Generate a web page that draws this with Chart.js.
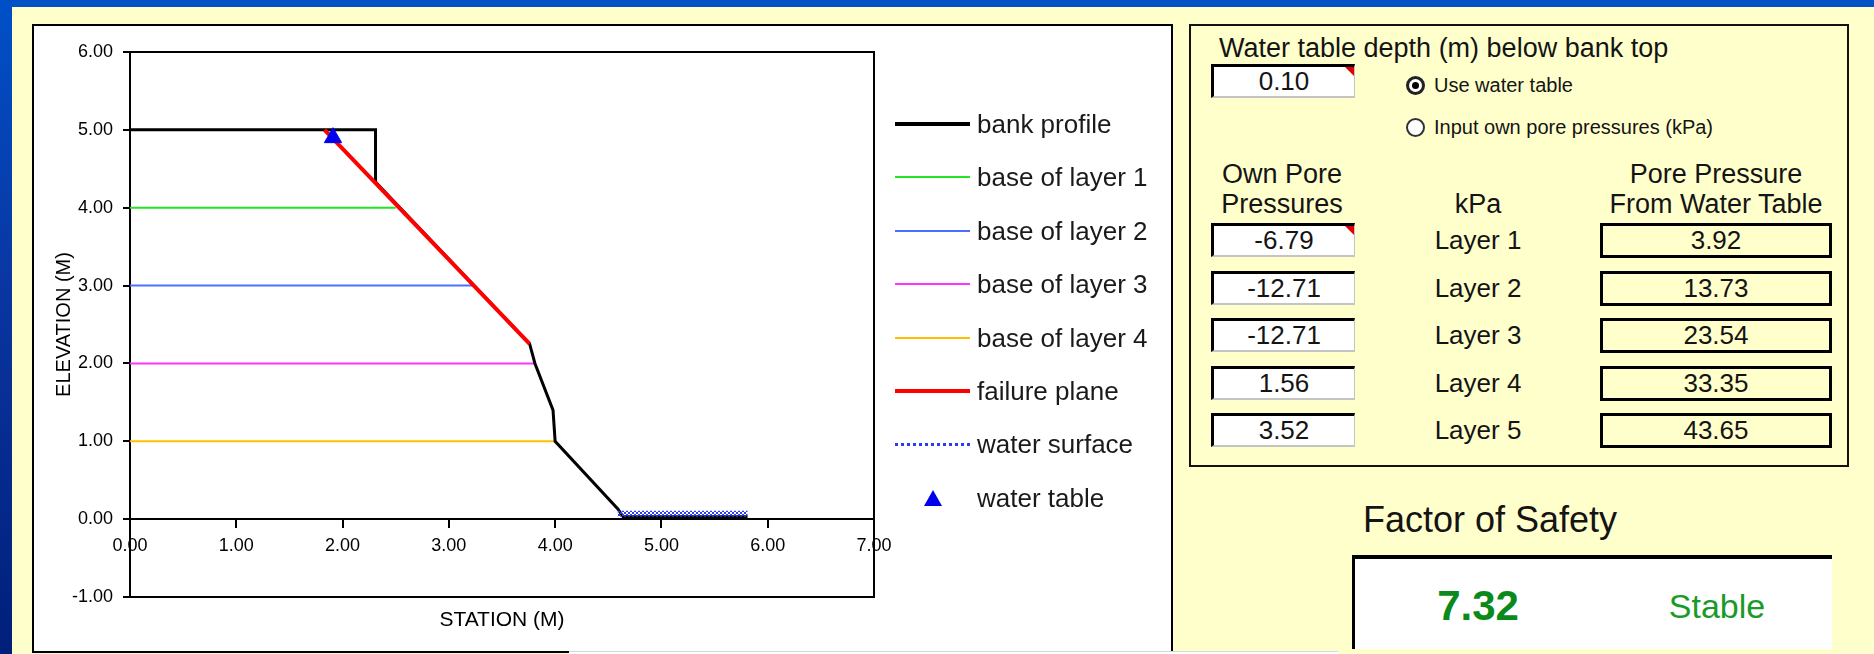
<!DOCTYPE html>
<html>
<head>
<meta charset="utf-8">
<script src="https://cdn.jsdelivr.net/npm/chart.js@4.4.0/dist/chart.umd.min.js"></script>
<style>
html, body { margin: 0; padding: 0; }
body { width: 1874px; height: 654px; overflow: hidden; position: relative; background: #ffffcc;
  font-family: "Liberation Sans", Arial, sans-serif; color: #141414; }
.abs { position: absolute; }
#topband { left: 0; top: 0; width: 1874px; height: 7px; background: #0050c8; }
#leftband { left: 0; top: 0; width: 12px; height: 654px; background: linear-gradient(#0050c8, #0a35a0 45%, #001f7a); }
#chartbox { left: 32px; top: 24px; width: 1141px; height: 629px; box-sizing: border-box; border: 2px solid #000; border-bottom: none; background: #fff; }
#boxbottom { left: 32px; top: 651px; width: 537px; height: 2px; background: #000; }
#boxbottom2 { left: 569px; top: 651px; width: 769px; height: 3px; background: #fff; border-top: 1px solid #d8d8d8; }
#chart { position: absolute; left: 34px; top: 26px; }

.lg { position: absolute; left: 895px; height: 30px; font-size: 26px; line-height: 30px; white-space: nowrap; color: #1a1a1a; }
.lg .smp { position: absolute; left: 0; top: 15px; width: 75px; }
.lg .txt { position: absolute; left: 82px; top: 0; }
.lg .tri { position: absolute; left: 29px; top: 7px; width: 0; height: 0;
  border-left: 9px solid transparent; border-right: 9px solid transparent; border-bottom: 16px solid #0000ee; }

#panel { left: 1189px; top: 24px; width: 660px; height: 443px; box-sizing: border-box; border: 2px solid #111; }
.lbl { position: absolute; white-space: nowrap; font-size: 26px; line-height: 30px; height: 30px; }
.ctr { text-align: center; }
.inp { position: absolute; box-sizing: border-box; background: #fff; border-top: 3px solid #000; border-left: 3px solid #000;
  border-right: 1px solid #c4c4c4; border-bottom: 2px solid #c4c4c4; font-size: 26px; text-align: center; }
.out { position: absolute; box-sizing: border-box; border: 3px solid #000; font-size: 26px; text-align: center; }
.corner { position: absolute; right: 0; top: 0; width: 0; height: 0; border-left: 9px solid transparent; border-top: 9px solid #e00000; }
.radio { position: absolute; width: 19px; height: 19px; box-sizing: border-box; border-radius: 50%; border: 2px solid #333; background: #fff; }
.radio.on { border: 3px solid #222; }
.radio.on::after { content: ""; position: absolute; left: 3px; top: 3px; width: 7px; height: 7px; border-radius: 50%; background: #000; }
.rtxt { position: absolute; font-size: 20px; line-height: 24px; white-space: nowrap; }
#fosbox { left: 1352px; top: 555px; width: 480px; height: 94px; box-sizing: border-box; background: #fff; border-top: 4px solid #000; border-left: 3px solid #000; }
</style>
</head>
<body>
<div id="topband" class="abs"></div>
<div id="leftband" class="abs"></div>
<div id="chartbox" class="abs"></div>
<div id="boxbottom" class="abs"></div>
<div id="boxbottom2" class="abs"></div>
<canvas id="chart" width="870" height="626"></canvas>
<div id="legend"></div>

<div id="panel" class="abs"></div>
<div class="lbl" style="left:1219px; top:33px; font-size:27px;">Water table depth (m) below bank top</div>
<div class="inp" style="left:1211px; top:64px; width:144px; height:34px; line-height:29px;">0.10<div class="corner"></div></div>
<div class="radio on" style="left:1406px; top:76px;"></div>
<div class="rtxt" style="left:1434px; top:73px;">Use water table</div>
<div class="radio" style="left:1406px; top:118px;"></div>
<div class="rtxt" style="left:1434px; top:115px;">Input own pore pressures (kPa)</div>
<div class="lbl ctr" style="left:1182px; width:200px; top:159px; font-size:27px;">Own Pore</div>
<div class="lbl ctr" style="left:1182px; width:200px; top:189px; font-size:27px;">Pressures</div>
<div class="lbl ctr" style="left:1378px; width:200px; top:189px; font-size:27px;">kPa</div>
<div class="lbl ctr" style="left:1596px; width:240px; top:159px; font-size:27px;">Pore Pressure</div>
<div class="lbl ctr" style="left:1596px; width:240px; top:189px; font-size:27px;">From Water Table</div>
<div id="rows"></div>
<div class="lbl" style="left:1363px; top:500px; height:40px; line-height:40px; font-size:36px;">Factor of Safety</div>
<div id="fosbox" class="abs"></div>
<div class="lbl ctr" style="left:1378px; width:200px; top:584px; height:44px; line-height:44px; font-size:42px; font-weight:bold; color:#0b8a1c;">7.32</div>
<div class="lbl ctr" style="left:1617px; width:200px; top:584px; height:44px; line-height:44px; font-size:34px; color:#1a9a2a;">Stable</div>

<script>
// bank cross-section, station (m) / elevation (m)
var bankX = [0, 2.31, 2.31, 3.76, 3.81, 3.98, 4.00, 4.59, 4.64, 5.81];
var bankY = [5.00, 5.00, 4.33, 2.25, 2.00, 1.40, 1.00, 0.13, 0.03, 0.03];
var layer1X = [0, 2.50];  var layer1Y = [4.00, 4.00];
var layer2X = [0, 3.23];  var layer2Y = [3.00, 3.00];
var layer3X = [0, 3.81];  var layer3Y = [2.00, 2.00];
var layer4X = [0, 4.00];  var layer4Y = [1.00, 1.00];
var failX = [1.83, 3.76]; var failY = [5.00, 2.25];
var waterX = [4.59, 5.81]; var waterY = [0.07, 0.07];
var tableX = [1.91];      var tableY = [4.90];

var xMin = 0, xMax = 7, yMin = -1, yMax = 6;

var seriesNames = ['bank profile', 'base of layer 1', 'base of layer 2', 'base of layer 3',
  'base of layer 4', 'failure plane', 'water surface', 'water table'];

// side panel values
var layerNames = ['Layer 1', 'Layer 2', 'Layer 3', 'Layer 4', 'Layer 5'];
var ownPore = ['-6.79', '-12.71', '-12.71', '1.56', '3.52'];
var tablePore = ['3.92', '13.73', '23.54', '33.35', '43.65'];

function pts(xs, ys) {
  return xs.map(function(x, i) { return {x: x, y: ys[i]}; });
}

// dotted fill for the water surface
var tile = document.createElement('canvas');
tile.width = 4; tile.height = 4;
var tc = tile.getContext('2d');
tc.fillStyle = '#2a3cf0';
tc.fillRect(0, 0, 2, 2);
tc.fillRect(2, 2, 2, 2);
var ctx = document.getElementById('chart').getContext('2d');
var waterPattern = ctx.createPattern(tile, 'repeat');

var plotFrame = {
  id: 'plotFrame',
  beforeDatasetsDraw: function(chart) {
    var a = chart.chartArea, c = chart.ctx;
    c.save();
    c.strokeStyle = '#000';
    c.lineWidth = 2;
    c.strokeRect(a.left, a.top, a.right - a.left, a.bottom - a.top);
    c.restore();
  }
};

function lineSet(i, xs, ys, color, width, order) {
  return {
    label: seriesNames[i], data: pts(xs, ys), showLine: true, borderColor: color,
    borderWidth: width, pointRadius: 0, fill: false, tension: 0, order: order,
    xAxisID: 'x', yAxisID: 'y'
  };
}

Chart.defaults.font.family = '"Liberation Sans", Arial, sans-serif';
Chart.defaults.color = '#000';

var myChart = new Chart(ctx, {
  type: 'scatter',
  data: {
    datasets: [
      lineSet(0, bankX, bankY, '#000000', 3, 3),
      lineSet(1, layer1X, layer1Y, '#22e622', 2, 4),
      lineSet(2, layer2X, layer2Y, '#4a70ff', 2, 4),
      lineSet(3, layer3X, layer3Y, '#ff33ff', 2, 4),
      lineSet(4, layer4X, layer4Y, '#ffc000', 2, 4),
      lineSet(5, failX, failY, '#ff0000', 4, 1),
      lineSet(6, waterX, waterY, waterPattern, 6, 2),
      {
        label: seriesNames[7], data: pts(tableX, tableY), showLine: false,
        pointStyle: 'triangle', pointRadius: 10, backgroundColor: '#0000ee', borderColor: '#0000ee',
        order: 0, xAxisID: 'x', yAxisID: 'y'
      }
    ]
  },
  options: {
    responsive: false,
    animation: false,
    layout: { padding: { top: 26, right: 30, left: 0, bottom: 0 } },
    plugins: { legend: { display: false }, tooltip: { enabled: false } },
    scales: {
      x: {
        type: 'linear', position: { y: 0 }, min: xMin, max: xMax,
        ticks: { stepSize: 1, autoSkip: false, maxRotation: 0, padding: 8, font: { size: 18 },
          callback: function(v) { return Number(v).toFixed(2); } },
        grid: { drawOnChartArea: false, tickLength: 8, color: '#000', lineWidth: 2 },
        border: { color: '#000', width: 2 }
      },
      xb: {
        type: 'linear', position: 'bottom', min: xMin, max: xMax,
        ticks: { display: false }, grid: { display: false }, border: { display: false },
        title: { display: true, text: 'STATION (M)', font: { size: 21 }, padding: { top: 0, bottom: 19 } },
        afterFit: function(s) { s.height = 55; }
      },
      y: {
        type: 'linear', min: yMin, max: yMax,
        ticks: { stepSize: 1, padding: 10, font: { size: 18 },
          callback: function(v) { return Number(v).toFixed(2); } },
        grid: { drawOnChartArea: false, tickLength: 7, color: '#000', lineWidth: 2 },
        border: { color: '#000', width: 2 },
        title: { display: true, text: 'ELEVATION (M)', font: { size: 20 }, padding: { top: 18, bottom: 0 } },
        afterFit: function(s) { s.width = 96; }
      }
    }
  },
  plugins: [plotFrame]
});

// legend next to the plot, styled like the spreadsheet chart
var samples = [
  'border-top:4px solid #000; margin-top:-2px;',
  'border-top:2px solid #22e622; margin-top:-1px;',
  'border-top:2px solid #4a70ff; margin-top:-1px;',
  'border-top:2px solid #ff33ff; margin-top:-1px;',
  'border-top:2px solid #ffc000; margin-top:-1px;',
  'border-top:4px solid #ff0000; margin-top:-2px;',
  'border-top:3px dotted #2a3cf0; margin-top:-1px;',
  null
];
var lg = document.getElementById('legend');
seriesNames.forEach(function(name, i) {
  var d = document.createElement('div');
  d.className = 'lg';
  d.style.top = (124 + i * 53.4 - 15) + 'px';
  var s = document.createElement('div');
  if (samples[i]) { s.className = 'smp'; s.style.cssText = samples[i]; }
  else { s.className = 'tri'; }
  var t = document.createElement('div');
  t.className = 'txt';
  t.textContent = name;
  d.appendChild(s); d.appendChild(t);
  lg.appendChild(d);
});

// pore pressure rows
var rows = document.getElementById('rows');
layerNames.forEach(function(name, i) {
  var top = 223 + i * 47.5;
  var a = document.createElement('div');
  a.className = 'inp';
  a.style.cssText = 'left:1211px; top:' + top + 'px; width:144px; height:34px; line-height:29px;';
  a.textContent = ownPore[i];
  if (i == 0) { var c = document.createElement('div'); c.className = 'corner'; a.appendChild(c); }
  var b = document.createElement('div');
  b.className = 'lbl ctr';
  b.style.cssText = 'left:1378px; width:200px; top:' + (top + 2) + 'px;';
  b.textContent = name;
  var o = document.createElement('div');
  o.className = 'out';
  o.style.cssText = 'left:1600px; top:' + top + 'px; width:232px; height:35px; line-height:29px;';
  o.textContent = tablePore[i];
  rows.appendChild(a); rows.appendChild(b); rows.appendChild(o);
});
</script>
</body>
</html>
